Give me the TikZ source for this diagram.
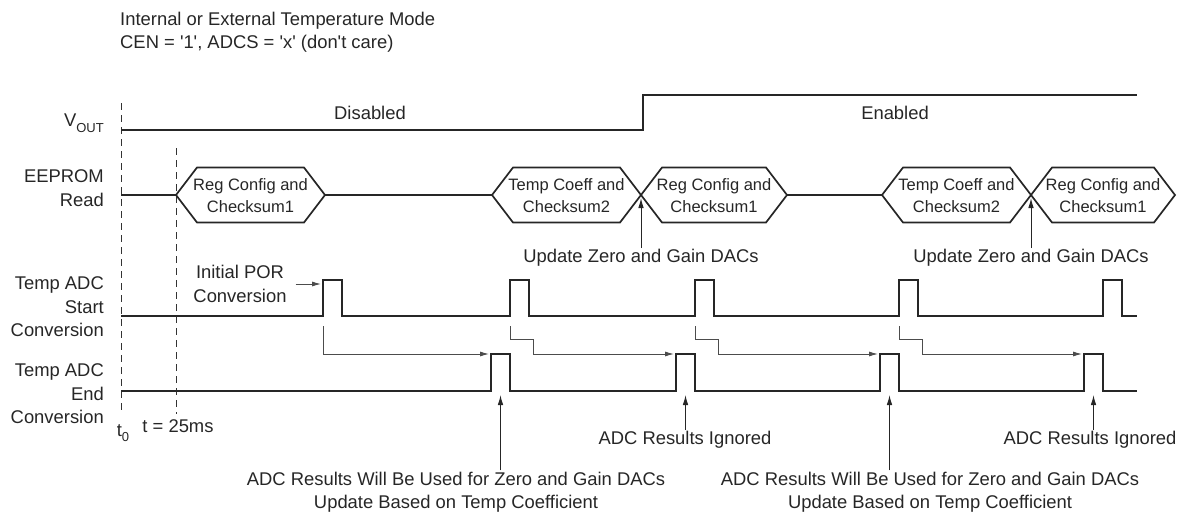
\documentclass[tikz,border=0pt]{standalone}
\usepackage{fontspec}
\setmainfont{Liberation Sans}
\usetikzlibrary{arrows.meta, positioning}
\newcommand{\subtxt}[1]{\raisebox{-0.3em}{\fontsize{13}{13}\selectfont #1}}
\newcommand{\sq}{\textquotesingle}

\begin{document}
\begin{tikzpicture}[x=1pt, y=-1pt,
    sig/.style={line width=1.7pt, draw=black!85, line join=miter},
    flow/.style={line width=0.9pt, draw=black!70, -{Latex[length=9pt,width=5pt]}},
    callout/.style={line width=1pt, draw=black!85, -{Latex[length=10pt,width=5.5pt]}},
    lbl/.style={font=\fontsize{18.4}{23.5}\selectfont, text=black!85, inner sep=1pt, align=center},
    hexlbl/.style={font=\fontsize{16.5}{22}\selectfont, text=black!85, align=center},
    tickline/.style={line width=0.9pt, draw=black!80, dash pattern=on 7pt off 5pt}]
\useasboundingbox (0,0) rectangle (1182,514);
% === header and time markers ===
\node[lbl, anchor=west, align=left] (mode) at (119,32)
    {Internal or External Temperature Mode\\CEN = \sq1\sq, ADCS = \sq x\sq\ (don\sq t care)};
\draw[tickline] (121,103) -- (121,414);
\draw[tickline] (176,148) -- (176,414);
\node[lbl] (tzero) at (123,433) {t\subtxt{0}};
\node[lbl] (t25) at (178,426) {t = 25ms};
% === signal names ===
\node[lbl, anchor=east, align=right] (vout) at (105,123) {V\subtxt{OUT}};
\node[lbl, anchor=east, align=right] (eeprom) at (105,188) {EEPROM\\Read};
\node[lbl, anchor=east, align=right] (adcst) at (105,307) {Temp ADC\\Start\\Conversion};
\node[lbl, anchor=east, align=right] (adcend) at (105,394) {Temp ADC\\End\\Conversion};
% === VOUT ===
\draw[sig] (121,130) -- (643,130) -- (643,95) -- (1137,95);
\node[lbl] (dis) at (370,113) {Disabled};
\node[lbl] (ena) at (895,113) {Enabled};
% === EEPROM read ===
\draw[sig] (121,195) -- (176,195);
\draw[sig] (325,195) -- (492,195);
\draw[sig] (787,195) -- (882,195);
\foreach \xl/\xr/\nm/\txt in {176/325/hexA/{Reg Config and\\Checksum1},
    492/641/hexB/{Temp Coeff and\\Checksum2}, 641/787/hexC/{Reg Config and\\Checksum1},
    882/1031/hexD/{Temp Coeff and\\Checksum2}, 1031/1175/hexE/{Reg Config and\\Checksum1}} {
    \draw[sig] (\xl,195) -- (\xl+21,167.5) -- (\xr-21,167.5) -- (\xr,195)
        -- (\xr-21,222.5) -- (\xl+21,222.5) -- cycle;
    \node[hexlbl] (\nm) at ({(\xl+\xr)/2},196) {\txt};
}
\node[lbl] (updA) at (641,258) {Update Zero and Gain DACs};
\node[lbl] (updB) at (1031,258) {Update Zero and Gain DACs};
\coordinate (crossA) at (641,198);
\coordinate (crossB) at (1031,198);
\draw[callout] (updA.north) -- (crossA);
\draw[callout] (updB.north) -- (crossB);
% === ADC start / end pulses ===
\draw[sig] (121,316) \foreach \s in {323,510,695,899,1103} {
    -- (\s,316) -- (\s,280) -- (\s+19,280) -- (\s+19,316) } -- (1137,316);
\draw[sig] (121,391) \foreach \e in {491,676,880,1084} {
    -- (\e,391) -- (\e,354) -- (\e+19,354) -- (\e+19,391) } -- (1137,391);
\node[lbl] (por) at (240,284) {Initial POR\\Conversion};
\coordinate (porpulse) at (321,284);
\draw[flow] (por.east) ++(8,0) -- (porpulse);
% start -> end handoff
\coordinate (src1) at (323,326);
\coordinate (dst1) at (489,354);
\draw[flow] (src1) |- (dst1);
\foreach \s/\e [count=\i from 2] in {510/676, 695/880, 899/1084} {
    \coordinate (src\i) at (\s,326);
    \coordinate (dst\i) at (\e-2,354);
    \draw[flow] (src\i) -- ++(0,13) -- ++(23,0) |- (dst\i);
}
% === result notes ===
\coordinate (endA) at (500.5,395);
\coordinate (endB) at (685.5,395);
\coordinate (endC) at (889.5,395);
\coordinate (endD) at (1093.5,395);
\node[lbl] (usedA) at (456,492) {ADC Results Will Be Used for Zero and Gain DACs\\Update Based on Temp Coefficient};
\node[lbl] (usedB) at (930,492) {ADC Results Will Be Used for Zero and Gain DACs\\Update Based on Temp Coefficient};
\node[lbl] (ignA) at (685,440) {ADC Results Ignored};
\node[lbl] (ignB) at (1090,440) {ADC Results Ignored};
\draw[callout] (usedA.north -| endA) -- (endA);
\draw[callout] (usedB.north -| endC) -- (endC);
\draw[callout] (ignA.north -| endB) -- (endB);
\draw[callout] (ignB.north -| endD) -- (endD);
\end{tikzpicture}
\end{document}
